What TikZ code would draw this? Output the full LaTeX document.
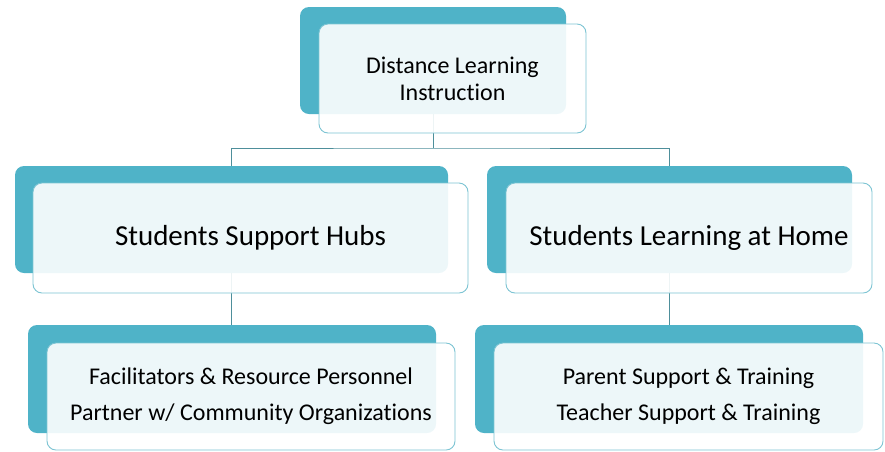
\documentclass[tikz,border=0pt]{standalone}
\usepackage{fontspec}
\setmainfont{Carlito}[Ligatures={NoCommon}]
\definecolor{teal1}{HTML}{4FB3C8}
\definecolor{edge1}{HTML}{7CC4D3}
\definecolor{conncol}{HTML}{4E8F9B}
\begin{document}
\begin{tikzpicture}[x=1pt,y=1pt,
 back/.style={fill=teal1, rounded corners=9pt, inner sep=0pt, outer sep=0pt, anchor=north west},
 front/.style={fill=white, fill opacity=0.9, draw=edge1, draw opacity=1, line width=0.9pt, rounded corners=9pt, inner sep=0pt, outer sep=0pt, anchor=north west},
 lbl/.style={align=center, text=black, inner sep=0pt},
 conn/.style={draw=conncol, line width=0.9pt}]
\useasboundingbox (0,0) rectangle (885,-451);
% back boxes
\node[back, minimum width=266pt, minimum height=107pt] (tb) at (300,-7) {};
\node[back, minimum width=433pt, minimum height=107pt] (lb) at (15,-166) {};
\node[back, minimum width=365pt, minimum height=107pt] (rb) at (487,-166) {};
\node[back, minimum width=408pt, minimum height=108pt] (llb) at (28,-325) {};
\node[back, minimum width=388pt, minimum height=108pt] (rlb) at (475,-325) {};
% connectors
\coordinate (j) at (433,-148);
\draw[conn] (tb.south) -- (j);
\draw[conn] (lb.north) |- (j) -| (rb.north);
\draw[conn] (lb.south) -- (lb.south |- llb.north);
\draw[conn] (rb.south) -- (rb.south |- rlb.north);
% front boxes
\node[front, minimum width=267pt, minimum height=109pt] (tf) at (319,-24) {};
\node[front, minimum width=435pt, minimum height=110pt] (lf) at (33,-183) {};
\node[front, minimum width=366pt, minimum height=110pt] (rf) at (506,-183) {};
\node[front, minimum width=408pt, minimum height=107pt] (llf) at (47,-343) {};
\node[front, minimum width=389pt, minimum height=107pt] (rlf) at (494,-343) {};
% labels
\node[lbl, font=\fontsize{24}{27}\selectfont] (tt) at (tf.center) {Distance Learning\\Instruction};
\node[lbl, font=\fontsize{29}{34}\selectfont] (lt) at (lf.center) {Students Support Hubs};
\node[lbl, font=\fontsize{29}{34}\selectfont] (rt) at (rf.center) {Students Learning at Home};
\node[lbl, font=\fontsize{24}{36}\selectfont] (llt) at (llf.center) {Facilitators \& Resource Personnel\\Partner w/ Community Organizations};
\node[lbl, font=\fontsize{24}{36}\selectfont] (rlt) at (rlf.center) {Parent Support \& Training\\Teacher Support \& Training};
\end{tikzpicture}
\end{document}
